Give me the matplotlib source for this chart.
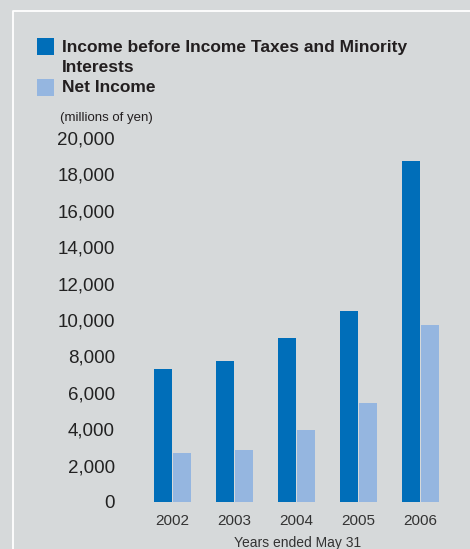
import matplotlib
matplotlib.use("Agg")
import matplotlib.pyplot as plt
from matplotlib.lines import Line2D
from matplotlib.patches import Rectangle
import numpy as np

years = ["2002", "2003", "2004", "2005", "2006"]
pretax_income = [7300, 7750, 9000, 10500, 18750]
net_income = [2700, 2850, 3950, 5450, 9700]
yticks = [0, 2000, 4000, 6000, 8000, 10000, 12000, 14000, 16000, 18000, 20000]

BG = "#d6d9da"
DARK = "#006eb9"
LIGHT = "#95b6e0"

plt.rcParams["font.family"] = ["Liberation Sans", "DejaVu Sans"]

W, H = 470, 549
fig = plt.figure(figsize=(W / 100, H / 100), dpi=100, facecolor=BG)

# white frame lines along the left and top of the panel
fig.add_artist(Line2D([13 / W, 13 / W, 1.0], [0.0, 1 - 11 / H, 1 - 11 / H],
                      transform=fig.transFigure, color="white", lw=1.3))

# plot area in pixel coordinates
left, right, top, bottom = 140, 455, 138, 502
ax = fig.add_axes([left / W, 1 - bottom / H, (right - left) / W, (bottom - top) / H])
ax.set_facecolor(BG)

x = np.arange(len(years))
bw = 0.29
off = 0.16
ax.bar(x - off, pretax_income, width=bw, color=DARK)
ax.bar(x + off, net_income, width=bw, color=LIGHT)

ax.set_xlim(-(172.5 - left) / 62, 4 + (right - 420.5) / 62)
ax.set_ylim(0, 20000)
ax.set_yticks(yticks)
ax.set_yticklabels([f"{v:,}" for v in yticks], fontsize=13.5, color="#222222")
ax.set_xticks(x)
ax.set_xticklabels(years, fontsize=11, color="#333333")
ax.tick_params(axis="y", length=0, pad=18)
ax.tick_params(axis="x", length=0, pad=8.5)
for s in ax.spines.values():
    s.set_visible(False)
ax.set_xlabel("Years ended May 31", fontsize=10, color="#333333", labelpad=6)

# legend
def legend_item(ypix, color):
    fig.add_artist(Rectangle((37 / W, 1 - (ypix + 8.5) / H), 17 / W, 17 / H,
                             transform=fig.transFigure, color=color, lw=0))

legend_item(46.5, DARK)
legend_item(87.5, LIGHT)
fig.text(62 / W, 1 - 47.5 / H, "Income before Income Taxes and Minority",
         fontsize=12.5, fontweight="bold", color="#231f20", va="center")
fig.text(62 / W, 1 - 67 / H, "Interests",
         fontsize=12.5, fontweight="bold", color="#231f20", va="center")
fig.text(62 / W, 1 - 88 / H, "Net Income",
         fontsize=12.5, fontweight="bold", color="#231f20", va="center")
fig.text(60 / W, 1 - 118 / H, "(millions of yen)",
         fontsize=9.5, color="#231f20", va="center")

fig.savefig("out.png", dpi=100, facecolor=BG)
